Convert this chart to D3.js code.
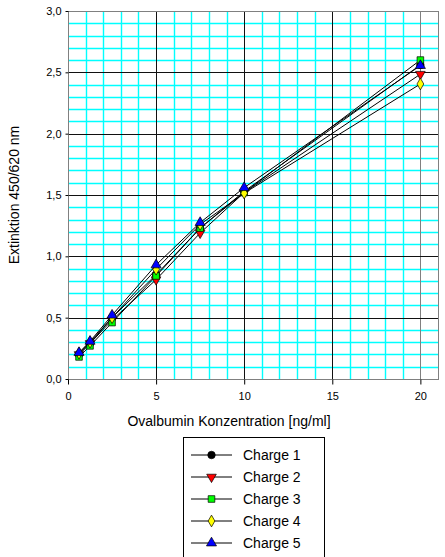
<!DOCTYPE html>
<html>
<head>
<meta charset="utf-8">
<script src="https://d3js.org/d3.v7.min.js"></script>
<style>
  body { margin: 0; background: #fff; }
  text { font-family: "Liberation Sans", Arial, sans-serif; }
</style>
</head>
<body>
<div id="chart"></div>
<script>
// concentrations (x) and extinction per charge
var conc = [0.625, 1.25, 2.5, 5, 7.5, 10, 20];
var charge1 = [0.20, 0.29, 0.50, 0.85, 1.23, 1.53, 2.56];
var charge2 = [0.20, 0.29, 0.48, 0.81, 1.19, 1.52, 2.485];
var charge3 = [0.18, 0.27, 0.46, 0.84, 1.23, 1.52, 2.60];
var charge4 = [0.21, 0.30, 0.50, 0.895, 1.26, 1.515, 2.405];
var charge5 = [0.215, 0.307, 0.52, 0.93, 1.275, 1.56, 2.555];
var seriesNames = ["Charge 1", "Charge 2", "Charge 3", "Charge 4", "Charge 5"];
var seriesVals = [charge1, charge2, charge3, charge4, charge5];
var xTicks = [0, 5, 10, 15, 20];
var yTicks = [0, 0.5, 1, 1.5, 2, 2.5, 3];

var W = 445, H = 557;
var pLeft = 68, pRight = 438, pTop = 11, pBottom = 379;

var svg = d3.select("#chart").append("svg")
  .attr("width", W).attr("height", H);

var x = d3.scaleLinear().domain([0, 21]).range([pLeft, pRight]);
var y = d3.scaleLinear().domain([0, 3]).range([pBottom, pTop]);

// minor grid (cyan)
svg.append("g").selectAll("line")
  .data(d3.range(1, 21).filter(function(d) { return d % 5 != 0; }))
  .enter().append("line")
    .attr("x1", function(d) { return Math.round(x(d)) + 0.5; })
    .attr("x2", function(d) { return Math.round(x(d)) + 0.5; })
    .attr("y1", pTop).attr("y2", pBottom)
    .attr("stroke", "#00ffff").attr("stroke-width", 1.4);
svg.append("g").selectAll("line")
  .data(d3.range(1, 30).filter(function(d) { return d % 5 != 0; }))
  .enter().append("line")
    .attr("x1", pLeft).attr("x2", pRight)
    .attr("y1", function(d) { return Math.round(y(d / 10)) + 0.5; })
    .attr("y2", function(d) { return Math.round(y(d / 10)) + 0.5; })
    .attr("stroke", "#00ffff").attr("stroke-width", 1.4);

// major grid
svg.append("g").selectAll("line")
  .data([5, 10, 15, 20])
  .enter().append("line")
    .attr("x1", function(d) { return Math.round(x(d)) + 0.5; })
    .attr("x2", function(d) { return Math.round(x(d)) + 0.5; })
    .attr("y1", pTop).attr("y2", pBottom)
    .attr("stroke", function(d) { return d == 20 ? "#808080" : "#111"; });
svg.append("g").selectAll("line")
  .data([0.5, 1, 1.5, 2, 2.5])
  .enter().append("line")
    .attr("x1", pLeft).attr("x2", pRight)
    .attr("y1", function(d) { return Math.round(y(d)) + 0.5; })
    .attr("y2", function(d) { return Math.round(y(d)) + 0.5; })
    .attr("stroke", "#111");

// plot border
svg.append("rect")
  .attr("x", pLeft + 0.5).attr("y", pTop + 0.5)
  .attr("width", pRight - pLeft).attr("height", pBottom - pTop)
  .attr("fill", "none").attr("stroke", "#808080");

// axes
var xAxis = svg.append("g")
  .attr("transform", "translate(0," + (pBottom + 0.5) + ")")
  .call(d3.axisBottom(x).tickValues(xTicks).tickSize(5).tickPadding(8)
    .tickFormat(d3.format("d")));
xAxis.select(".domain").remove();
xAxis.selectAll("text").style("font-size", "11px").attr("fill", "#000");
xAxis.selectAll("line").attr("stroke", "#000");

var yAxis = svg.append("g")
  .attr("transform", "translate(" + (pLeft + 0.5) + ",0)")
  .call(d3.axisLeft(y).tickValues(yTicks).tickSize(3).tickPadding(4)
    .tickFormat(function(d) { return d.toFixed(1).replace(".", ","); }));
yAxis.select(".domain").remove();
yAxis.selectAll("text").style("font-size", "11px").attr("fill", "#000");
yAxis.selectAll("line").attr("stroke", "#000");

// axis titles
svg.append("text")
  .attr("x", 229).attr("y", 426)
  .attr("text-anchor", "middle")
  .style("font-size", "14px")
  .text("Ovalbumin Konzentration [ng/ml]");
svg.append("text")
  .attr("transform", "translate(19," + ((pTop + pBottom) / 2) + ") rotate(-90)")
  .attr("text-anchor", "middle")
  .style("font-size", "14px")
  .text("Extinktion 450/620 nm");

// marker styles
var fills = ["#000000", "#ff0000", "#00ff00", "#ffff00", "#0000ff"];
var symbols = [d3.symbolCircle, d3.symbolTriangle, d3.symbolSquare, d3.symbolDiamond, d3.symbolTriangle];
var sizes = [44, 40, 44, 40, 44];
var rotate = [0, 180, 0, 0, 0];

var line = d3.line()
  .x(function(d, i) { return x(conc[i]); })
  .y(function(d) { return y(d); });

seriesVals.forEach(function(vals, i) {
  svg.append("path")
    .datum(vals)
    .attr("d", line)
    .attr("fill", "none")
    .attr("stroke", "#000")
    .attr("stroke-width", 1);
  svg.append("g").selectAll("path")
    .data(vals)
    .enter().append("path")
      .attr("d", d3.symbol().type(symbols[i]).size(sizes[i]))
      .attr("transform", function(d, j) {
        return "translate(" + x(conc[j]) + "," + y(d) + ") rotate(" + rotate[i] + ")";
      })
      .attr("fill", fills[i])
      .attr("stroke", "#000").attr("stroke-width", 0.7);
});

// legend
var lg = svg.append("g");
lg.append("rect")
  .attr("x", 183.5).attr("y", 437.5)
  .attr("width", 141).attr("height", 130)
  .attr("fill", "#fff").attr("stroke", "#000");
seriesNames.forEach(function(name, i) {
  var ly = 455 + i * 22;
  lg.append("line")
    .attr("x1", 191).attr("x2", 232)
    .attr("y1", ly).attr("y2", ly)
    .attr("stroke", "#000");
  lg.append("path")
    .attr("d", d3.symbol().type(symbols[i]).size(sizes[i]))
    .attr("transform", "translate(211.5," + ly + ") rotate(" + rotate[i] + ")")
    .attr("fill", fills[i])
    .attr("stroke", "#000").attr("stroke-width", 0.7);
  lg.append("text")
    .attr("x", 243).attr("y", ly + 5)
    .style("font-size", "14px")
    .text(name);
});
</script>
</body>
</html>
